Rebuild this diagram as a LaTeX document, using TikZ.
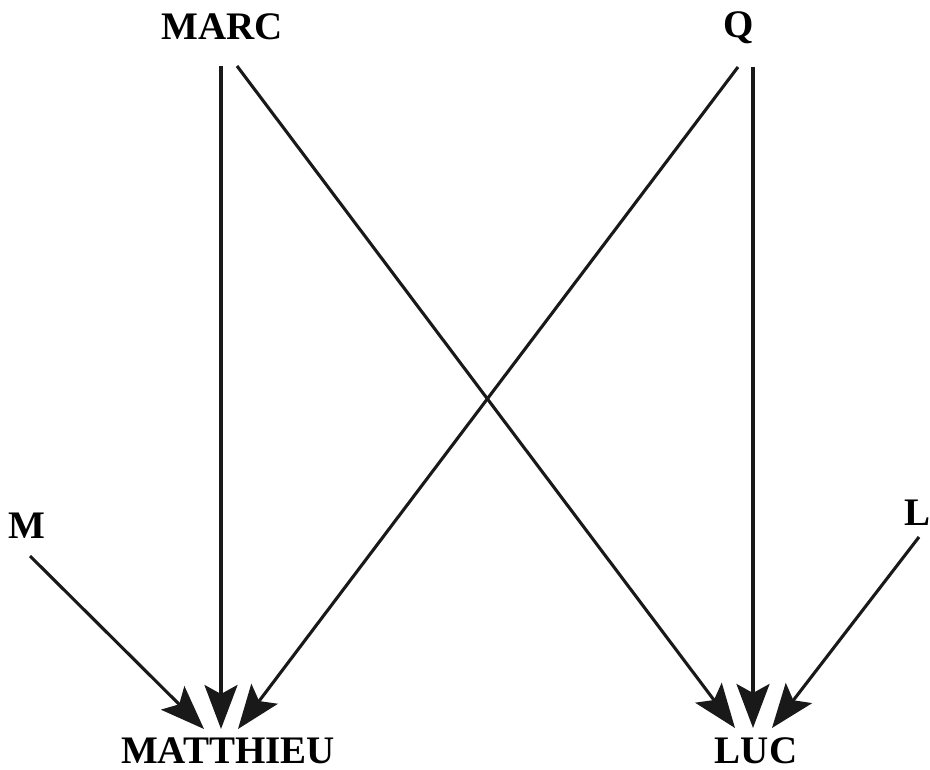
\documentclass[tikz,border=0pt]{standalone}
\usepackage{fontspec}
\setmainfont{Liberation Serif}
\usetikzlibrary{arrows.meta}
\begin{document}
\begin{tikzpicture}[x=1pt,y=-1pt,
  lbl/.style={font=\fontsize{39}{40}\selectfont\bfseries, inner sep=0pt, anchor=base},
  conn/.style={line width=3.1pt, draw=black!90, -{Stealth[length=44pt,width=33pt,inset=9pt]}}]
\useasboundingbox (0,0) rectangle (930,770);
\node[lbl] (marc) at (222,40) {MARC};
\node[lbl] (q) at (739,38) {Q};
\node[lbl] (m) at (27,538) {M};
\node[lbl] (l) at (917,525) {L};
\node[lbl] (matt) at (228,763) {MATTHIEU};
\node[lbl] (luc) at (756,763) {LUC};
\coordinate (marcA) at (221,66);
\coordinate (marcB) at (237,66);
\coordinate (qA) at (738,67);
\coordinate (qB) at (753,67);
\coordinate (mS) at (30,556);
\coordinate (lS) at (919,537);
\coordinate (mattL) at (204,729);
\coordinate (mattC) at (221,729);
\coordinate (mattR) at (238,729);
\coordinate (lucL) at (735,728);
\coordinate (lucC) at (753,728);
\coordinate (lucR) at (772,728);
\draw[conn] (marcA) -- (mattC);
\draw[conn] (marcB) -- (lucL);
\draw[conn] (qA) -- (mattR);
\draw[conn] (qB) -- (lucC);
\draw[conn] (mS) -- (mattL);
\draw[conn] (lS) -- (lucR);
\end{tikzpicture}
\end{document}
